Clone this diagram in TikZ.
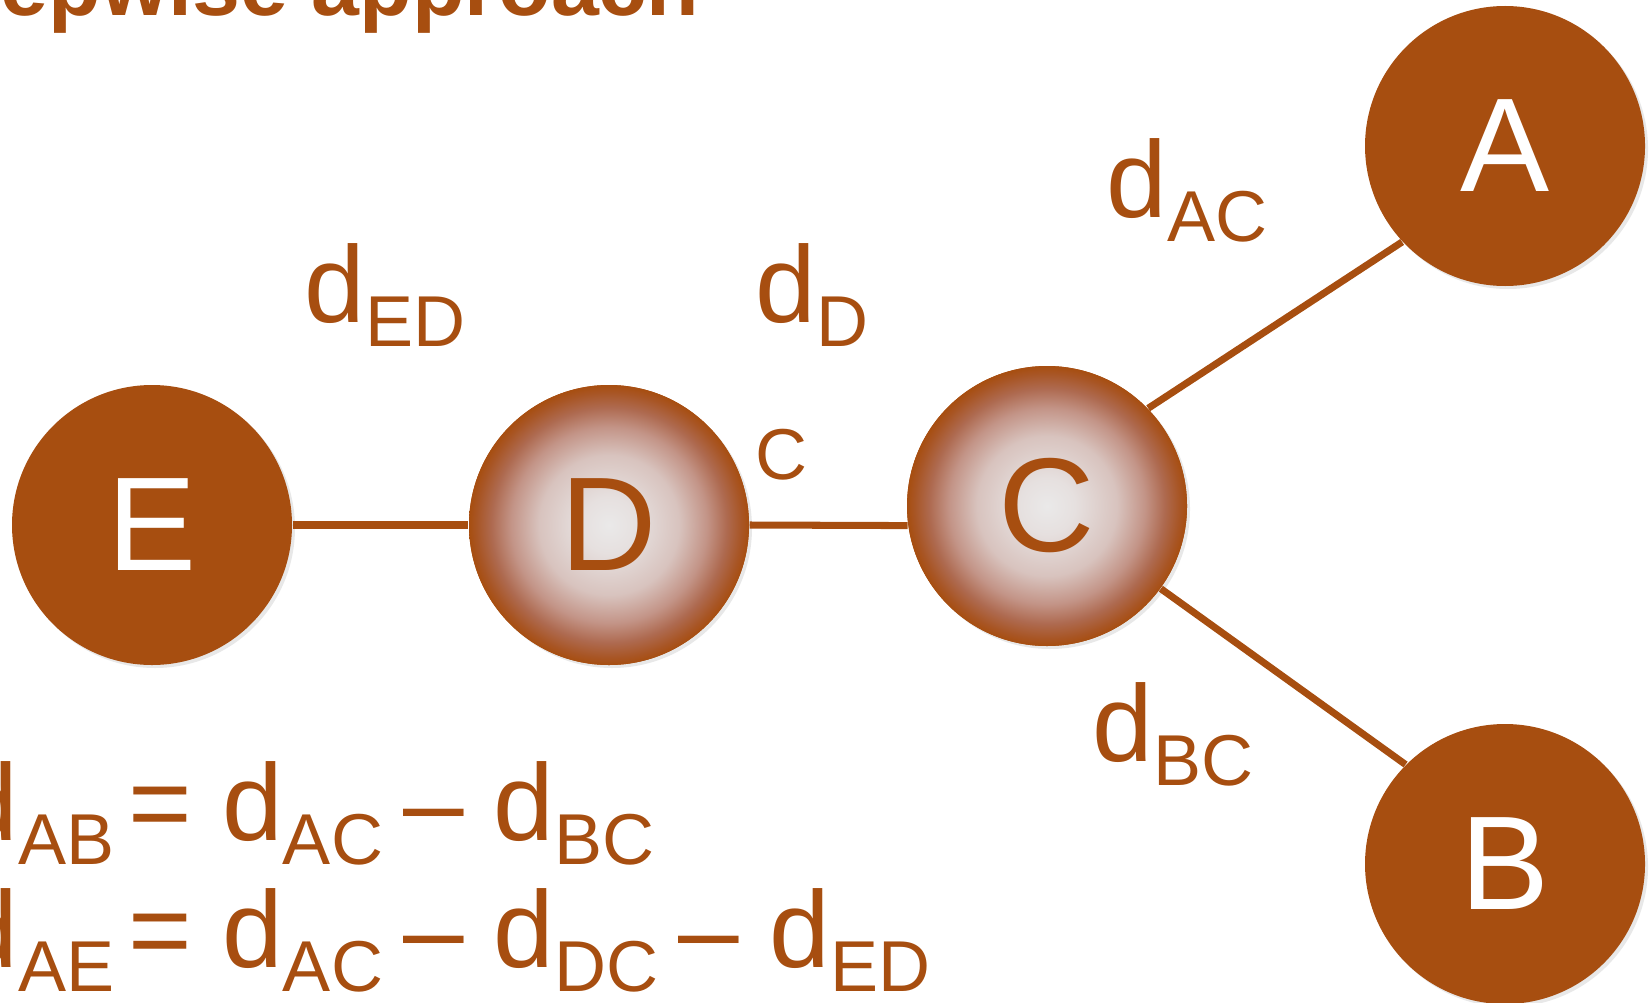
\documentclass[tikz,border=0pt]{standalone}
\usepackage{fontspec}
\setmainfont{Liberation Sans}
\usetikzlibrary{shadows}

\definecolor{rust}{HTML}{A74E10}
\definecolor{ballcore}{HTML}{EAE9E9}
\definecolor{ballpale}{HTML}{E6E0DF}
\definecolor{ballpink}{HTML}{D8C3BE}
\definecolor{ballmid}{HTML}{C39487}
\definecolor{ballrim}{HTML}{AE6A50}
\definecolor{balledge}{HTML}{A85524}
\pgfdeclareradialshading{ballshade}{\pgfpoint{0bp}{0bp}}{color(0bp)=(ballcore); color(5bp)=(ballpale); color(12.5bp)=(ballpink); color(17.5bp)=(ballmid); color(21bp)=(ballrim); color(23.7bp)=(balledge); color(25bp)=(rust); color(50bp)=(rust)}

\newcommand{\subsz}{\fontsize{20.5}{20.5}\selectfont}
\newcommand{\dlab}[1]{d\raisebox{-7pt}{\subsz #1}}

\begin{document}
\begin{tikzpicture}[
        taxon/.style={circle, minimum size=2.8cm, inner sep=0pt, fill=rust, text=white,
            font=\fontsize{38}{38}\selectfont,
            drop shadow={shadow xshift=0.03cm, shadow yshift=-0.03cm, opacity=0.18, fill=black!50}},
        ancestor/.style={taxon, shading=ballshade, text=rust},
        branch/.style={draw=rust, line width=2pt},
        lab/.style={inner sep=0pt, anchor=base west, text=rust, font=\fontsize{31}{31}\selectfont}]
    \useasboundingbox (0,0) rectangle (16.52,-10.02);
    \clip (0,0) rectangle (16.52,-10.02);

    \node[inner sep=0pt, anchor=base west, text=rust, font=\fontsize{24.5}{24.5}\selectfont\bfseries]
        (title) at (-0.86,-0.16) {Stepwise approach};

    % the tree
    \node[taxon] (E) at (1.52,-5.25) {E};
    \node[ancestor] (D) at (6.09,-5.25) {D};
    \node[ancestor] (C) at (10.47,-5.06) {C};
    \node[taxon] (A) at (15.05,-1.46) {A};
    \node[taxon] (B) at (15.05,-8.64) {B};

    \draw[branch] (E.east) -- (D.west);
    \draw[branch] (D.east) -- (C.188);
    \draw[branch] (C.44) -- (A.223);
    \draw[branch] (C.-36) -- (B.135);

    % branch lengths
    \node[lab] (ded) at (3.04,-3.22) {\dlab{ED}};
    \node[lab] (ddc) at (7.55,-3.22) {\dlab{D}};
    \node[lab, font=\subsz] (ddc2) at (7.55,-4.79) {C};
    \node[lab] (dac) at (11.06,-2.17) {\dlab{AC}};
    \node[lab] (dbc) at (10.92,-7.61) {\dlab{BC}};

    % distances
    \node[lab] (eqab) at (-0.43,-8.40) {\dlab{AB\hspace*{4pt}}= \dlab{AC\ }– \dlab{BC}};
    \node[lab] (eqae) at (-0.43,-9.67) {\dlab{AE\hspace*{4pt}}= \dlab{AC\ }– \dlab{DC\ }– \dlab{ED}};
\end{tikzpicture}
\end{document}
